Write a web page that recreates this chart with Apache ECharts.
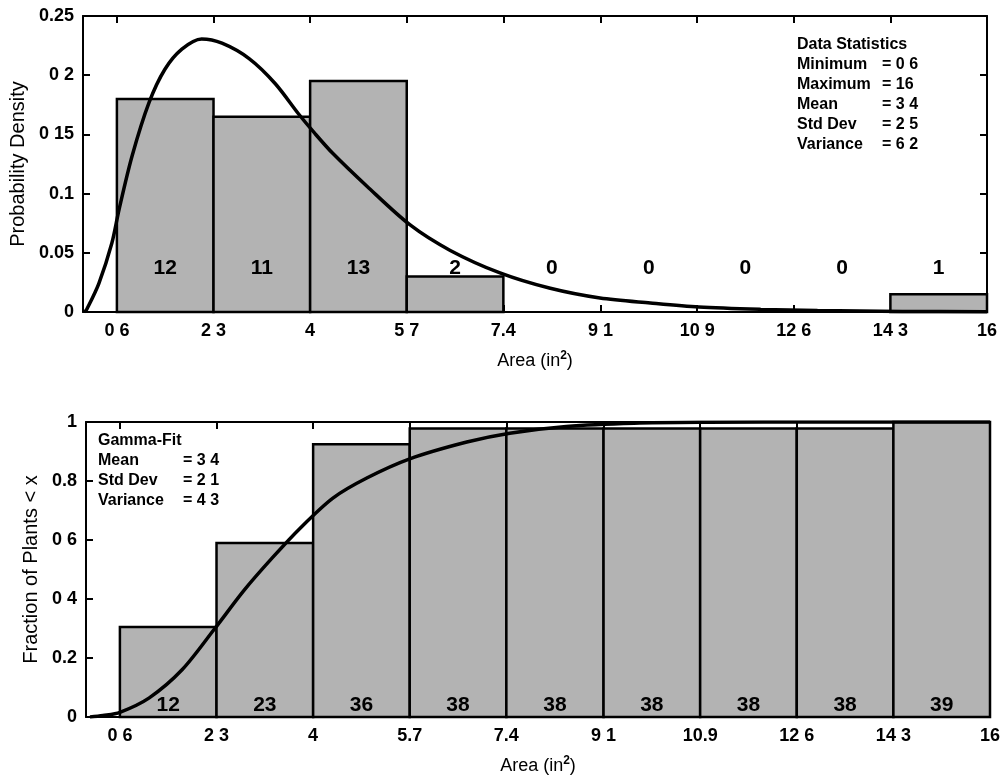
<!DOCTYPE html>
<html>
<head>
<meta charset="utf-8">
<script src="https://cdn.jsdelivr.net/npm/echarts@6/dist/echarts.min.js"></script>
<style>html,body{margin:0;padding:0;background:#fff}#c{width:1006px;height:782px}</style>
</head>
<body>
<div id="c"></div>
<script>
// ---- data ----
const binEdges = [0.6, 2.31, 4.02, 5.73, 7.44, 9.16, 10.87, 12.58, 14.29, 16];
const tickLabelsTop = ['0 6', '2 3', '4', '5 7', '7.4', '9 1', '10 9', '12 6', '14 3', '16'];
const tickLabelsBottom = ['0 6', '2 3', '4', '5.7', '7.4', '9 1', '10.9', '12 6', '14 3', '16'];
const binCounts = [12, 11, 13, 2, 0, 0, 0, 0, 1];
const binDensity = [0.18, 0.165, 0.195, 0.03, 0, 0, 0, 0, 0.015];
const cumCounts = [12, 23, 36, 38, 38, 38, 38, 38, 39];
const cumFraction = [0.305, 0.59, 0.925, 0.978, 0.978, 0.978, 0.978, 0.978, 1.0];
const pdfX = [0.03, 0.07, 0.28, 0.51, 0.64, 0.87, 1.17, 1.45, 1.75, 2.1, 2.46, 2.94, 3.4, 3.82, 4.1, 4.42, 5.03, 5.79, 6.5, 7.38, 8.27, 9.15, 10.04, 10.9, 12.0, 13.0, 14.5, 16.0];
const pdfY = [0.0, 0.0025, 0.024, 0.058, 0.087, 0.132, 0.177, 0.205, 0.222, 0.2306, 0.227, 0.214, 0.193, 0.167, 0.151, 0.134, 0.106, 0.0735, 0.052, 0.033, 0.020, 0.0118, 0.0076, 0.0042, 0.0022, 0.0012, 0.0005, 0.0002];
const cdfX = [0.07, 0.3, 0.6, 1.12, 1.7, 2.28, 2.8, 3.3, 3.79, 4.37, 4.97, 5.73, 6.74, 7.5, 8.5, 9.7, 11.0, 13.0, 16.0];
const cdfY = [0.0, 0.005, 0.016, 0.065, 0.16, 0.3, 0.43, 0.54, 0.64, 0.742, 0.81, 0.875, 0.932, 0.962, 0.985, 0.996, 0.999, 1.0, 1.0];
const topYTicks = [0, 0.05, 0.1, 0.15, 0.2, 0.25];
const topYLabels = ['0', '0.05', '0.1', '0 15', '0 2', '0.25'];
const botYTicks = [0, 0.2, 0.4, 0.6, 0.8, 1];
const botYLabels = ['0', '0.2', '0 4', '0 6', '0.8', '1'];
const statsTitle = 'Data Statistics';
const statsNames = ['Minimum', 'Maximum', 'Mean', 'Std Dev', 'Variance'];
const statsValues = ['= 0 6', '= 16', '= 3 4', '= 2 5', '= 6 2'];
const fitTitle = 'Gamma-Fit';
const fitNames = ['Mean', 'Std Dev', 'Variance'];
const fitValues = ['= 3 4', '= 2 1', '= 4 3'];

const FONT = '"Liberation Sans", Arial, sans-serif';
const BAR_FILL = '#b3b3b3';

function labelFor(labels) {
  return function (v) {
    for (let i = 0; i < binEdges.length; i++) {
      if (Math.abs(binEdges[i] - v) < 1e-6) return labels[i];
    }
    return '';
  };
}
function yLabelFor(ticks, labels) {
  return function (v) {
    for (let i = 0; i < ticks.length; i++) if (Math.abs(ticks[i] - v) < 1e-9) return labels[i];
    return '';
  };
}

function barData(vals, lbls) {
  return vals.map((v, i) => [binEdges[i], binEdges[i + 1], v, String(lbls[i])]);
}

function makeRender(labelLevel) {
  return function (params, api) {
    const x0 = api.value(0), x1 = api.value(1), y = api.value(2), lab = api.value(3);
    const pTop = api.coord([x0, y]);
    const pBot = api.coord([x1, 0]);
    const pLab = api.coord([(x0 + x1) / 2, labelLevel]);
    const children = [];
    if (y > 0) {
      children.push({
        type: 'rect',
        shape: { x: pTop[0], y: pTop[1], width: pBot[0] - pTop[0], height: pBot[1] - pTop[1] },
        style: { fill: BAR_FILL, stroke: '#000', lineWidth: 2.5 }
      });
    }
    children.push({
      type: 'text',
      x: pLab[0], y: pLab[1],
      style: { text: String(lab), fill: '#000', font: 'bold 21px ' + FONT, align: 'center', verticalAlign: 'middle' },
      z2: 10
    });
    return { type: 'group', children: children };
  };
}

const lineSt = { color: '#000', width: 2 };
const commonXAxis = (gi, labels) => ({
  type: 'value', gridIndex: gi, min: 0, max: 16,
  axisLine: { onZero: false, lineStyle: lineSt },
  axisTick: { inside: true, length: 7, customValues: binEdges, lineStyle: lineSt },
  axisLabel: { customValues: binEdges, formatter: labelFor(labels), color: '#000', fontFamily: FONT, fontWeight: 'bold', fontSize: 18, margin: 10 },
  splitLine: { show: false },
  name: '{a|Area (in}{s|2}{a|)}', nameLocation: 'middle', nameGap: 38,
  nameTextStyle: { rich: { a: { fontFamily: FONT, fontSize: 18, color: '#000' }, s: { fontFamily: FONT, fontSize: 12, color: '#000', fontWeight: 'bold', verticalAlign: 'top', padding: [0, 0, 10, 0] } } }
});
const mirrorXAxis = (gi) => ({
  type: 'value', gridIndex: gi, min: 0, max: 16, position: 'top',
  axisLine: { onZero: false, lineStyle: lineSt },
  axisTick: { inside: true, length: 7, customValues: binEdges, lineStyle: lineSt },
  axisLabel: { show: false }, splitLine: { show: false }
});
const leftYAxis = (gi, max, interval, ticks, labels, name, gap) => ({
  type: 'value', gridIndex: gi, min: 0, max: max, interval: interval,
  axisLine: { show: true, onZero: false, lineStyle: lineSt },
  axisTick: { show: true, inside: true, length: 7, lineStyle: lineSt },
  axisLabel: { formatter: yLabelFor(ticks, labels), color: '#000', fontFamily: FONT, fontWeight: 'bold', fontSize: 18, margin: 9 },
  splitLine: { show: false },
  name: name, nameLocation: 'middle', nameGap: gap,
  nameTextStyle: { fontFamily: FONT, fontSize: 20, color: '#000' }
});
const rightYAxis = (gi, max, interval) => ({
  type: 'value', gridIndex: gi, min: 0, max: max, interval: interval, position: 'right',
  axisLine: { show: true, onZero: false, lineStyle: lineSt },
  axisTick: { show: true, inside: true, length: 7, lineStyle: lineSt },
  axisLabel: { show: false }, splitLine: { show: false }
});

function statsGraphic(left, top, title, names, values, valueOffset) {
  const els = [];
  const all = [title].concat(names);
  all.forEach((t, i) => {
    els.push({ type: 'text', left: left, top: top + i * 20, style: { text: t, font: 'bold 16px ' + FONT, fill: '#000' } });
  });
  values.forEach((v, i) => {
    els.push({ type: 'text', left: left + valueOffset, top: top + (i + 1) * 20, style: { text: v, font: 'bold 16px ' + FONT, fill: '#000' } });
  });
  return els;
}

const chart = echarts.init(document.getElementById('c'), null, { renderer: 'canvas' });
chart.setOption({
  animation: false,
  backgroundColor: '#fff',
  grid: [
    { left: 83, top: 16, width: 904, height: 296 },
    { left: 86, top: 422, width: 904, height: 295 }
  ],
  xAxis: [commonXAxis(0, tickLabelsTop), mirrorXAxis(0), commonXAxis(1, tickLabelsBottom), mirrorXAxis(1)],
  yAxis: [
    leftYAxis(0, 0.25, 0.05, topYTicks, topYLabels, 'Probability Density', 52),
    rightYAxis(0, 0.25, 0.05),
    leftYAxis(1, 1, 0.2, botYTicks, botYLabels, 'Fraction of Plants < x', 42),
    rightYAxis(1, 1, 0.2)
  ],
  series: [
    { type: 'custom', xAxisIndex: 0, yAxisIndex: 0, renderItem: makeRender(0.037), data: barData(binDensity, binCounts), z: 2 },
    { type: 'line', xAxisIndex: 0, yAxisIndex: 0, data: pdfX.map((x, i) => [x, pdfY[i]]), smooth: 0.3, showSymbol: false, lineStyle: { color: '#000', width: 3.5 }, z: 5 },
    { type: 'custom', xAxisIndex: 2, yAxisIndex: 2, renderItem: makeRender(0.04), data: barData(cumFraction, cumCounts), z: 2 },
    { type: 'line', xAxisIndex: 2, yAxisIndex: 2, data: cdfX.map((x, i) => [x, cdfY[i]]), smooth: 0.3, showSymbol: false, lineStyle: { color: '#000', width: 3.5 }, z: 5 }
  ],
  graphic: statsGraphic(797, 37, statsTitle, statsNames, statsValues, 85)
    .concat(statsGraphic(98, 433, fitTitle, fitNames, fitValues, 85))
});
</script>
</body>
</html>
